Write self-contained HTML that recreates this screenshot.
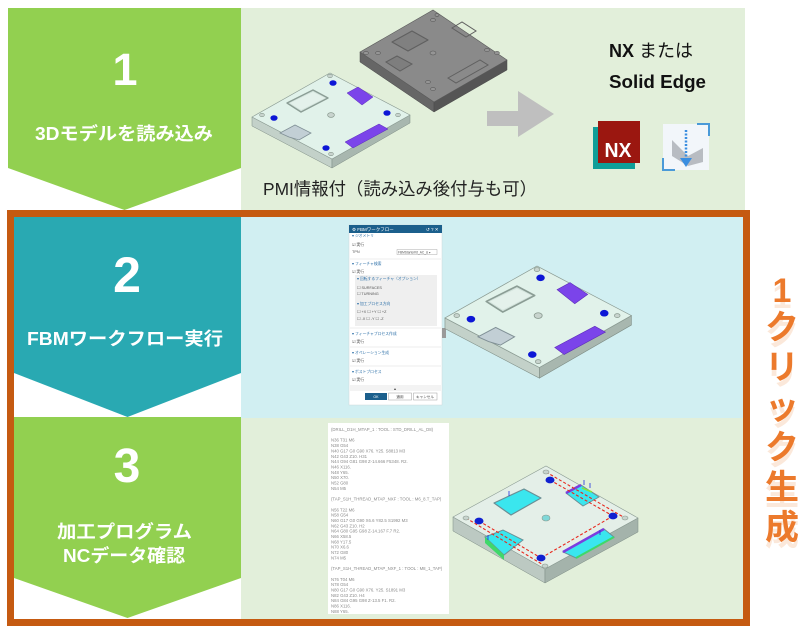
<!DOCTYPE html>
<html>
<head>
<meta charset="utf-8">
<style>
html,body{margin:0;padding:0;background:#fff;}
svg{display:block;}
text{font-family:"Liberation Sans","Noto Sans CJK JP",sans-serif;}
</style>
</head>
<body>
<svg width="812" height="635" viewBox="0 0 812 635" xmlns="http://www.w3.org/2000/svg">
<defs>
  <g id="plateBase">
    <polygon points="252,117 332,159 332,168 252,126" fill="#c3d1c9" stroke="#7d8c84" stroke-width="0.5"/>
    <polygon points="332,159 410,115 410,123 332,168" fill="#a8b7af" stroke="#7d8c84" stroke-width="0.5"/>
    <polygon points="252,117 330,73 410,115 332,159" fill="#e1f2ea" stroke="#8a9a92" stroke-width="0.6"/>
  </g>
  <g id="feat1">
    <polygon points="287,103 313,90 328,98 301,112" fill="#d4e4dd" stroke="#8b9d95" stroke-width="1.4" stroke-linejoin="round"/>
    <polygon points="290,103 313,92 325,98 301,110" fill="#e4f1eb" stroke="none"/>
    <polygon points="280,133 295,125 311,133 299,140 289,137" fill="#c2cfd5" stroke="#7f8f95" stroke-width="0.8"/>
    <polygon points="347,93 358,87 373,97 362,105" fill="#7b44ea" stroke="#5b2bb8" stroke-width="0.5"/>
    <polygon points="345,142 379,124 388,129 353,148" fill="#7b44ea" stroke="#5b2bb8" stroke-width="0.5"/>
    <ellipse cx="333" cy="83" rx="3.6" ry="2.8" fill="#0c16d6"/>
    <ellipse cx="274" cy="118" rx="3.6" ry="2.8" fill="#0c16d6"/>
    <ellipse cx="387" cy="113" rx="3.6" ry="2.8" fill="#0c16d6"/>
    <ellipse cx="326" cy="148" rx="3.6" ry="2.8" fill="#0c16d6"/>
    <ellipse cx="330" cy="76" rx="2.4" ry="1.7" fill="#c8d4ce" stroke="#8a9a90" stroke-width="0.6"/>
    <ellipse cx="262" cy="115" rx="2.4" ry="1.7" fill="#c8d4ce" stroke="#8a9a90" stroke-width="0.6"/>
    <ellipse cx="398" cy="115" rx="2.4" ry="1.7" fill="#c8d4ce" stroke="#8a9a90" stroke-width="0.6"/>
    <ellipse cx="331" cy="154" rx="2.4" ry="1.7" fill="#c8d4ce" stroke="#8a9a90" stroke-width="0.6"/>
    <ellipse cx="331" cy="115" rx="3.4" ry="2.4" fill="#c8d4ce" stroke="#8a9a90" stroke-width="0.7"/>
  </g>
</defs>

<!-- panels -->
<rect x="241" y="8" width="504" height="202" fill="#e2efda"/>
<rect x="241" y="217" width="502" height="201" fill="#d1eff2"/>
<rect x="241" y="418" width="502" height="201" fill="#e2efda"/>

<!-- step arrows -->
<polygon points="8,8 241,8 241,168 124.5,210 8,168" fill="#92d050"/>
<polygon points="14,217 241,217 241,373 127.5,417 14,373" fill="#29a9b2"/>
<polygon points="14,417 241,417 241,578 127.5,618 14,578" fill="#92d050"/>

<!-- step texts -->
<text x="125" y="85" font-size="45" font-weight="bold" fill="#fff" text-anchor="middle">1</text>
<text x="124" y="140" font-size="18" font-weight="bold" fill="#fff" text-anchor="middle" textLength="178" lengthAdjust="spacingAndGlyphs">3Dモデルを読み込み</text>
<text x="127" y="292" font-size="50" font-weight="bold" fill="#fff" text-anchor="middle">2</text>
<text x="125" y="345" font-size="18" font-weight="bold" fill="#fff" text-anchor="middle" textLength="196" lengthAdjust="spacingAndGlyphs">FBMワークフロー実行</text>
<text x="127" y="482" font-size="48" font-weight="bold" fill="#fff" text-anchor="middle">3</text>
<text x="124.5" y="538" font-size="18" font-weight="bold" fill="#fff" text-anchor="middle" textLength="135" lengthAdjust="spacingAndGlyphs">加工プログラム</text>
<text x="124" y="562" font-size="18" font-weight="bold" fill="#fff" text-anchor="middle" textLength="122" lengthAdjust="spacingAndGlyphs">NCデータ確認</text>

<!-- panel 1: dark plate -->
<polygon points="360,52 434,102 434,112 360,62" fill="#666" stroke="#4a4a4a" stroke-width="0.5"/>
<polygon points="434,102 507,60 507,70 434,112" fill="#555" stroke="#4a4a4a" stroke-width="0.5"/>
<polygon points="360,52 433,10 507,60 434,102" fill="#8a8a8a" stroke="#5a5a5a" stroke-width="0.6"/>
<polygon points="392,42 412,31 428,40 408,51" fill="#808080" stroke="#606060" stroke-width="1.2" stroke-linejoin="round"/>
<polygon points="452,28 462,22 476,31 466,37" fill="none" stroke="#606060" stroke-width="1"/>
<polygon points="386,62 397,56 412,64 400,71" fill="#7e7e7e" stroke="#606060" stroke-width="1"/>
<polygon points="448,78 480,60 488,65 456,83" fill="none" stroke="#606060" stroke-width="1"/>
<g fill="#959595" stroke="#5a5a5a" stroke-width="0.6">
<ellipse cx="433" cy="20" rx="2.4" ry="1.6"/><ellipse cx="437" cy="15" rx="2" ry="1.4"/>
<ellipse cx="366" cy="53" rx="2.4" ry="1.6"/><ellipse cx="378" cy="53" rx="2.4" ry="1.6"/>
<ellipse cx="433" cy="53" rx="3" ry="2"/><ellipse cx="487" cy="50" rx="2.4" ry="1.6"/>
<ellipse cx="497" cy="53" rx="2.4" ry="1.6"/><ellipse cx="428" cy="82" rx="2.4" ry="1.6"/>
<ellipse cx="433" cy="89" rx="2.4" ry="1.6"/>
</g>

<!-- panel 1: light plate -->
<use href="#plateBase"/>
<use href="#feat1"/>

<!-- arrow -->
<polygon points="487,111 518,111 518,91 554,114 518,137 518,126 487,126" fill="#bfbfbf"/>

<!-- NX / Solid Edge -->
<text x="609" y="57" font-size="18" fill="#111"><tspan font-weight="bold">NX</tspan> または</text>
<text x="609" y="88" font-size="18" font-weight="bold" fill="#111" textLength="97" lengthAdjust="spacingAndGlyphs">Solid Edge</text>
<rect x="593" y="127" width="42" height="42" fill="#0f9e98"/>
<rect x="598" y="121" width="42" height="42" fill="#9b1710"/>
<text x="618" y="157" font-size="20" font-weight="bold" fill="#fff" text-anchor="middle" textLength="27" lengthAdjust="spacingAndGlyphs">NX</text>
<g>
  <rect x="663" y="124" width="46" height="46" fill="#f2f6fa"/>
  <path d="M697,124 L709,124 L709,136" fill="none" stroke="#4a9ad8" stroke-width="2"/>
  <path d="M663,158 L663,170 L675,170" fill="none" stroke="#4a9ad8" stroke-width="2"/>
  <path d="M672,140 L688,156 L703,148 L703,162 L688,166 L672,156 Z" fill="#b8bcc2"/>
  <line x1="686" y1="130" x2="686" y2="160" stroke="#3a8ee0" stroke-width="2.5" stroke-dasharray="2,1.5"/>
  <polygon points="680,158 692,158 686,167" fill="#3a8ee0"/>
</g>

<text x="263" y="195" font-size="17.5" fill="#222" textLength="274" lengthAdjust="spacingAndGlyphs">PMI情報付（読み込み後付与も可）</text>

<!-- panel 2: dialog -->
<rect x="349" y="225" width="93" height="180" fill="#fff" stroke="#cfd8dc" stroke-width="0.5"/>
<rect x="349" y="225" width="93" height="8" fill="#1b5f8c"/>
<text x="352" y="231" font-size="4.5" fill="#fff">⚙ FBMワークフロー</text>
<text x="426" y="231" font-size="4.5" fill="#fff">↺ ? ✕</text>
<g font-size="3.8" fill="#555">
<text x="352" y="237" fill="#2c6fa8">▾ ジオメトリ</text>
<text x="352" y="246">☑ 実行</text>
<text x="352" y="253">TPN</text>
<rect x="397" y="249.5" width="40" height="5" fill="#fff" stroke="#999" stroke-width="0.4"/>
<text x="398" y="253.5" font-size="3.2">FBMStarterKit_AC_&amp; ▾</text>
<line x1="350" y1="259" x2="441" y2="259" stroke="#ddd" stroke-width="0.6"/>
<text x="352" y="265" fill="#2c6fa8">▾ フィーチャ検索</text>
<text x="352" y="273">☑ 実行</text>
<rect x="355" y="275" width="82" height="51" fill="#efefef"/>
<text x="357" y="280" fill="#2c6fa8">▾ 回転するフィーチャ（オプション）</text>
<text x="357" y="289">☐ SURFACES</text>
<text x="357" y="295">☐ TURNING</text>
<text x="357" y="305" fill="#2c6fa8">▾ 加工プロセス方向</text>
<text x="357" y="313">☐ +X  ☐ +Y  ☐ +Z</text>
<text x="357" y="320">☐ -X  ☐ -Y  ☐ -Z</text>
<line x1="350" y1="328" x2="441" y2="328" stroke="#ddd" stroke-width="0.6"/>
<text x="352" y="335" fill="#2c6fa8">▾ フィーチャプロセス作成</text>
<text x="352" y="343">☑ 実行</text>
<line x1="350" y1="347" x2="441" y2="347" stroke="#ddd" stroke-width="0.6"/>
<text x="352" y="354" fill="#2c6fa8">▾ オペレーション生成</text>
<text x="352" y="362">☑ 実行</text>
<line x1="350" y1="366" x2="441" y2="366" stroke="#ddd" stroke-width="0.6"/>
<text x="352" y="373" fill="#2c6fa8">▾ ポストプロセス</text>
<text x="352" y="381">☑ 実行</text>
</g>
<rect x="350" y="385" width="91" height="6" fill="#f3f3f3"/>
<text x="395" y="390" font-size="4" fill="#444" text-anchor="middle">▴</text>
<rect x="365" y="393" width="22" height="7" fill="#1b5f8c"/>
<text x="376" y="398" font-size="3.6" fill="#fff" text-anchor="middle">OK</text>
<rect x="388.5" y="393" width="23" height="7" fill="#fff" stroke="#888" stroke-width="0.4"/>
<text x="400" y="398" font-size="3.6" fill="#444" text-anchor="middle">適用</text>
<rect x="413.5" y="393" width="23.5" height="7" fill="#fff" stroke="#888" stroke-width="0.4"/>
<text x="425" y="398" font-size="3.6" fill="#444" text-anchor="middle">キャンセル</text>
<rect x="442" y="328" width="4" height="10" fill="#9a9a9a"/>

<!-- panel 2: plate -->
<g transform="translate(147.6,179.9) scale(1.18)">
  <use href="#plateBase"/>
  <use href="#feat1"/>
</g>

<!-- panel 3: code -->
<rect x="328" y="423" width="121" height="191" fill="#fff"/>
<g font-size="4.3" fill="#8a8a8a">
<text x="331" y="431">(DRILL_D1H_MTAP_1 : TOOL : STD_DRILL_AL_D8)</text>
<text x="331" y="441.7">N36 T31 M6</text>
<text x="331" y="447.1">N38 G54</text>
<text x="331" y="452.4">N40 G17 G0 G90 X76. Y25. S8813 M3</text>
<text x="331" y="457.8">N42 G43 Z10. H31</text>
<text x="331" y="463.1">N44 G94 G81 G98 Z-14.666 F5348. R2.</text>
<text x="331" y="468.5">N46 X116.</text>
<text x="331" y="473.8">N48 Y65.</text>
<text x="331" y="479.2">N50 X70.</text>
<text x="331" y="484.5">N52 G80</text>
<text x="331" y="489.9">N54 M5</text>
<text x="331" y="500.6">(TAP_S1H_THREAD_MTAP_NXF : TOOL : M6_8.T_TAP)</text>
<text x="331" y="511.3">N56 T22 M6</text>
<text x="331" y="516.6">N58 G54</text>
<text x="331" y="522">N60 G17 G0 G90 X6.6 Y82.5 S1992 M3</text>
<text x="331" y="527.3">N62 G43 Z10. H2</text>
<text x="331" y="532.7">N64 G80 G95 G98 Z-14.167 F.7 R2.</text>
<text x="331" y="538">N66 X58.5</text>
<text x="331" y="543.4">N68 Y17.5</text>
<text x="331" y="548.7">N70 X6.6</text>
<text x="331" y="554.1">N72 G80</text>
<text x="331" y="559.4">N74 M5</text>
<text x="331" y="570.1">(TAP_S1H_THREAD_MTAP_NXF_1 : TOOL : M8_1_TAP)</text>
<text x="331" y="580.8">N76 T04 M6</text>
<text x="331" y="586.1">N78 G54</text>
<text x="331" y="591.5">N80 G17 G0 G90 X76. Y25. S1891 M3</text>
<text x="331" y="596.8">N82 G43 Z10. H4</text>
<text x="331" y="602.2">N84 G84 G95 G98 Z-13.5 F1. R2.</text>
<text x="331" y="607.5">N86 X116.</text>
<text x="331" y="612.9">N88 Y65.</text>
</g>

<!-- panel 3: plate with toolpaths -->
<polygon points="453,517 545,569 545,583 453,531" fill="#bcc9c2" stroke="#7d8c84" stroke-width="0.5"/>
<polygon points="545,569 638,518 638,532 545,583" fill="#a4b3ab" stroke="#7d8c84" stroke-width="0.5"/>
<polygon points="453,517 546,466 638,518 545,569" fill="#e4efe8" stroke="#8a9a92" stroke-width="0.6"/>
<polygon points="494,503 524,489 541,498 511,515" fill="#3ae6ee" stroke="#6b8f95" stroke-width="1.2" stroke-linejoin="round"/>
<polygon points="566,493 581,485 599,497 583,506" fill="#3ae6ee" stroke="#6b8f95" stroke-width="1" stroke-linejoin="round"/>
<line x1="566" y1="493" x2="581" y2="485" stroke="#7a3ee0" stroke-width="2.5"/>
<polygon points="485,537 503,530 523,540 504,555" fill="#3ae6ee" stroke="#6b8f95" stroke-width="1"/>
<polygon points="485,537 504,555 504,560 485,543" fill="#3fd86a"/>
<polygon points="563,552 604,529 614,537 576,558" fill="#3ae6ee" stroke="#6b8f95" stroke-width="1"/>
<line x1="563" y1="552" x2="604" y2="529" stroke="#7a3ee0" stroke-width="2.5"/>
<line x1="576" y1="558" x2="614" y2="537" stroke="#3fd86a" stroke-width="2"/>
<g fill="none" stroke="#e8281e" stroke-width="1.1" stroke-dasharray="3,2">
  <path d="M546,472 L625,518"/>
  <path d="M550,480 L613,516"/>
  <path d="M466,518 L545,566"/>
  <path d="M479,521 L541,558"/>
  <path d="M613,516 L541,558"/>
</g>
<g fill="#1020d0">
<ellipse cx="550" cy="480" rx="4.5" ry="3.4"/><ellipse cx="479" cy="521" rx="4.5" ry="3.4"/>
<ellipse cx="613" cy="516" rx="4.5" ry="3.4"/><ellipse cx="541" cy="558" rx="4.5" ry="3.4"/>
</g>
<g fill="#c8d4ce" stroke="#8a9a90" stroke-width="0.6">
<ellipse cx="546" cy="472" rx="3" ry="2"/><ellipse cx="466" cy="518" rx="3" ry="2"/>
<ellipse cx="625" cy="518" rx="3" ry="2"/><ellipse cx="545" cy="566" rx="3" ry="2"/>
</g>
<ellipse cx="546" cy="518" rx="4" ry="3" fill="#7fd8d8" stroke="#8a9a90" stroke-width="0.6"/>
<g stroke="#2030e0" stroke-width="0.8">
<line x1="584" y1="485" x2="584" y2="480"/><line x1="590" y1="488" x2="590" y2="483"/>
<line x1="509" y1="496" x2="509" y2="491"/><line x1="488" y1="540" x2="488" y2="535"/>
<line x1="600" y1="535" x2="600" y2="530"/>
</g>
<line x1="582" y1="488" x2="592" y2="492" stroke="#8be03a" stroke-width="1.5"/>

<!-- orange frame -->
<rect x="10.5" y="213.5" width="736" height="409" fill="none" stroke="#c55a11" stroke-width="7"/>

<!-- vertical text -->
<g font-size="34" font-weight="bold" text-anchor="middle">
  <g fill="#f8d3b6" opacity="0.5">
    <text x="782" y="308">1</text>
    <text x="782" y="345">ク</text>
    <text x="782" y="385">リ</text>
    <text x="782" y="425">ッ</text>
    <text x="782" y="465">ク</text>
    <text x="782" y="505">生</text>
    <text x="782" y="545">成</text>
  </g>
  <g fill="#ec7a2c">
    <text x="782" y="302">1</text>
    <text x="782" y="339">ク</text>
    <text x="782" y="379">リ</text>
    <text x="782" y="419">ッ</text>
    <text x="782" y="459">ク</text>
    <text x="782" y="499">生</text>
    <text x="782" y="539">成</text>
  </g>
</g>
</svg>
</body>
</html>
